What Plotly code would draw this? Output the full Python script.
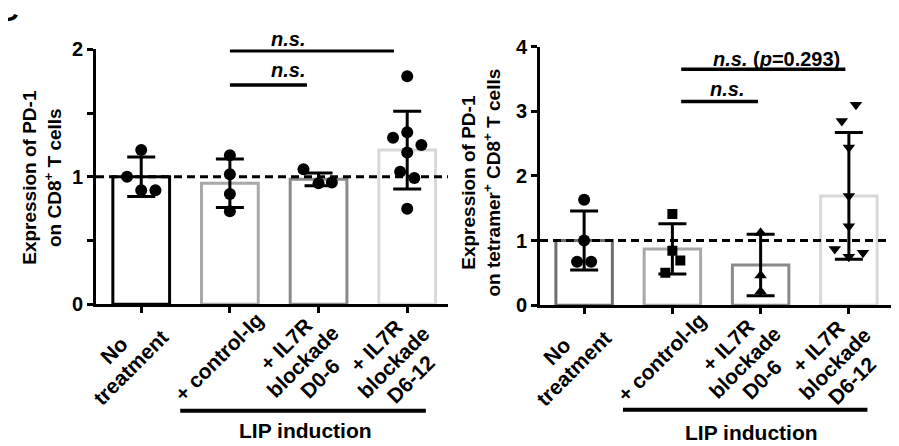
import math
import plotly.graph_objects as go

# ---------------- data ----------------
categories = ["No<br>treatment", "+ control-Ig",
              "+ IL7R<br>blockade<br>D0-6", "+ IL7R<br>blockade<br>D6-12"]
group_label = "LIP induction"

left_title = "Expression of PD-1<br>on CD8<sup>+</sup> T cells"
left_means = [1.00, 0.95, 0.98, 1.21]
left_sd = [0.155, 0.19, 0.05, 0.305]
left_points = [
    [1.21, 1.00, 0.895, 0.895],
    [1.17, 1.02, 0.865, 0.73],
    [1.06, 0.95, 0.955],
    [1.79, 1.306, 1.35, 1.25, 1.19, 1.04, 0.99, 0.75],
]
left_ticks = [0, 0.5, 1, 1.5, 2]
left_ticktext = ["0", " ", "1", " ", "2"]

right_title = "Expression of PD-1<br>on tetramer<sup>+</sup> CD8<sup>+</sup> T cells"
right_means = [1.00, 0.87, 0.62, 1.69]
right_sd = [0.455, 0.39, 0.475, 0.98]
right_points = [
    [1.63, 1.00, 0.67, 0.67],
    [1.41, 0.84, 0.69, 0.50],
    [1.12, 0.46, 0.21],
    [2.85, 3.10, 2.44, 1.69, 1.22, 0.87, 0.75, 0.81],
]
right_ticks = [0, 1, 2, 3, 4]
right_ticktext = ["0", "1", "2", "3", "4"]

sig_left = ["<b><i>n.s.</i></b>", "<b><i>n.s.</i></b>"]
sig_right = ["<b><i>n.s.</i> (<i>p</i>=0.293)</b>", "<b><i>n.s.</i></b>"]

# ---------------- display settings (positions / styles) ----------------
W, H = 899, 446
FONT = "Liberation Sans, Arial, sans-serif"
left_jitter = [[0, -0.16, 0, 0.16], [0, 0, 0, 0], [-0.17, 0, 0.15],
               [0, -0.16, 0, 0.16, 0, -0.08, 0.08, 0]]
right_jitter = [[0, 0, -0.08, 0.08], [0, 0, 0.09, -0.08], [0, 0, 0],
                [-0.08, 0.08, 0, 0, 0, -0.16, 0, 0.16]]
left_colors = ["#000000", "#a8a8a8", "#8a8a8a", "#d8d8d8"]
right_colors = ["#6e6e6e", "#a8a8a8", "#8a8a8a", "#d8d8d8"]
right_symbols = ["circle", "square", "triangle-up", "triangle-down"]
right_sizes = [12, 10, 11, 11]
# block centre of each rotated label relative to its tick (px right, px down)
label_centres = [(-19, 55), (-11, 52), (-16, 57), (-14, 58)]
LINE_GAP = 24  # px between rotated lines (perpendicular to text)


def px_x(p):
    return p / W


def px_y(p):
    return 1 - p / H


fig = go.Figure()


def add_panel(suffix, means, sd, points, jitter, colors, symbols, sizes):
    xs = list(range(len(categories)))
    fig.add_trace(go.Bar(
        x=xs, y=means, width=0.64,
        marker=dict(color="white", line=dict(color=colors, width=3)),
        error_y=dict(type="data", array=sd, color="black", thickness=3, width=14),
        xaxis="x" + suffix, yaxis="y" + suffix, showlegend=False,
        hoverinfo="skip",
    ))
    for i, vals in enumerate(points):
        fig.add_trace(go.Scatter(
            x=[i + j for j in jitter[i]], y=vals, mode="markers",
            marker=dict(color="black", size=sizes[i], symbol=symbols[i], line=dict(width=0)),
            xaxis="x" + suffix, yaxis="y" + suffix, showlegend=False,
            hoverinfo="skip",
        ))


add_panel("", left_means, left_sd, left_points, left_jitter, left_colors,
          ["circle"] * 4, [12] * 4)
add_panel("2", right_means, right_sd, right_points, right_jitter, right_colors,
          right_symbols, right_sizes)

axis_common = dict(showgrid=False, zeroline=False, showline=True, linecolor="black",
                   linewidth=3, ticks="outside", tickwidth=2.5, ticklen=6,
                   tickcolor="black", fixedrange=True)

fig.update_layout(
    width=W, height=H, margin=dict(l=0, r=0, t=0, b=0),
    paper_bgcolor="white", plot_bgcolor="white",
    font=dict(family=FONT, color="black"),
    xaxis=dict(domain=[px_x(88), px_x(440)], range=[-0.51, 3.46],
               tickvals=[0, 1, 2, 3], showticklabels=False, anchor="y", **axis_common),
    yaxis=dict(domain=[px_y(300), px_y(32)], range=[0, 2], tickvals=left_ticks,
               ticktext=left_ticktext, tickfont=dict(size=20, weight="bold"),
               anchor="x", **axis_common),
    xaxis2=dict(domain=[px_x(532), px_x(885)], range=[-0.50, 3.50],
                tickvals=[0, 1, 2, 3], showticklabels=False, anchor="y2", **axis_common),
    yaxis2=dict(domain=[px_y(301), px_y(29)], range=[0, 4], tickvals=right_ticks,
                ticktext=right_ticktext, tickfont=dict(size=20, weight="bold"),
                anchor="x2", **axis_common),
)

shapes = []
annotations = []

# dashed reference lines at y=1
shapes.append(dict(type="line", xref="x", yref="y", x0=-0.51, x1=3.46, y0=1, y1=1,
                   line=dict(color="black", width=3, dash="8px,5px")))
shapes.append(dict(type="line", xref="x2", yref="y2", x0=-0.50, x1=3.59, y0=1, y1=1,
                   line=dict(color="black", width=3, dash="8px,5px")))

# significance brackets (line y in data units, text y in pixels from top)
sig_specs = [
    ("x", "y", 1.0, 2.85, 1.99, 1.65, 21, sig_left[0]),
    ("x", "y", 1.0, 1.87, 1.72, 1.65, 54, sig_left[1]),
    ("x2", "y2", 1.1, 2.96, 3.65, 2.18, 42, sig_right[0]),
    ("x2", "y2", 1.1, 1.97, 3.15, 1.62, 74, sig_right[1]),
]
for xr, yr, x0, x1, yl, xt, ytpx, txt in sig_specs:
    shapes.append(dict(type="line", xref=xr, yref=yr, x0=x0, x1=x1, y0=yl, y1=yl,
                       line=dict(color="black", width=3.5)))
    annotations.append(dict(xref=xr, yref="paper", x=xt, y=px_y(ytpx), text=txt,
                            showarrow=False,
                            font=dict(size=20, family=FONT, color="black"),
                            xanchor="center", yanchor="middle"))

# rotated category labels: each line centred, lines stacked perpendicular to text
c45 = math.cos(math.radians(45))
for xr, yr in [("x", "y"), ("x2", "y2")]:
    for i, lab in enumerate(categories):
        lines = lab.split("<br>")
        cx, cy = label_centres[i]
        n = len(lines)
        for k, ln in enumerate(lines):
            off = (k - (n - 1) / 2) * LINE_GAP
            dx = cx + off * c45
            dy = cy + off * c45
            annotations.append(dict(xref=xr, yref=yr, x=i, y=0, text="<b>" + ln + "</b>",
                                    showarrow=False, textangle=-45,
                                    xanchor="center", yanchor="middle",
                                    xshift=dx, yshift=-dy,
                                    font=dict(size=21, family=FONT, color="black")))

# LIP induction group brackets
for xr, ypx, xc, ytxt in [("x", 412, 1.85, 433), ("x2", 411, 1.90, 435)]:
    shapes.append(dict(type="line", xref=xr, yref="paper", x0=0.44, x1=3.21,
                       y0=px_y(ypx), y1=px_y(ypx), line=dict(color="black", width=4)))
    annotations.append(dict(xref=xr, yref="paper", x=xc, y=px_y(ytxt),
                            text="<b>" + group_label + "</b>", showarrow=False,
                            xanchor="center", yanchor="middle",
                            font=dict(size=21, family=FONT, color="black")))

# y-axis titles
annotations.append(dict(xref="paper", yref="paper", x=px_x(34), y=px_y(167),
                        text="<b>" + left_title + "</b>", showarrow=False, textangle=-90,
                        xanchor="center", yanchor="middle", align="center",
                        font=dict(size=19, family=FONT, color="black")))
annotations.append(dict(xref="paper", yref="paper", x=px_x(473), y=px_y(172),
                        text="<b>" + right_title + "</b>", showarrow=False, textangle=-90,
                        xanchor="center", yanchor="middle", align="center",
                        font=dict(size=19, family=FONT, color="black")))

# clipped panel letter at top-left
annotations.append(dict(xref="paper", yref="paper", x=px_x(13), y=px_y(11),
                        text="<b>C</b>", showarrow=False, xanchor="right", yanchor="bottom",
                        font=dict(size=30, family=FONT, color="black")))

fig.update_layout(shapes=shapes, annotations=annotations)
fig.write_html("out.html")
